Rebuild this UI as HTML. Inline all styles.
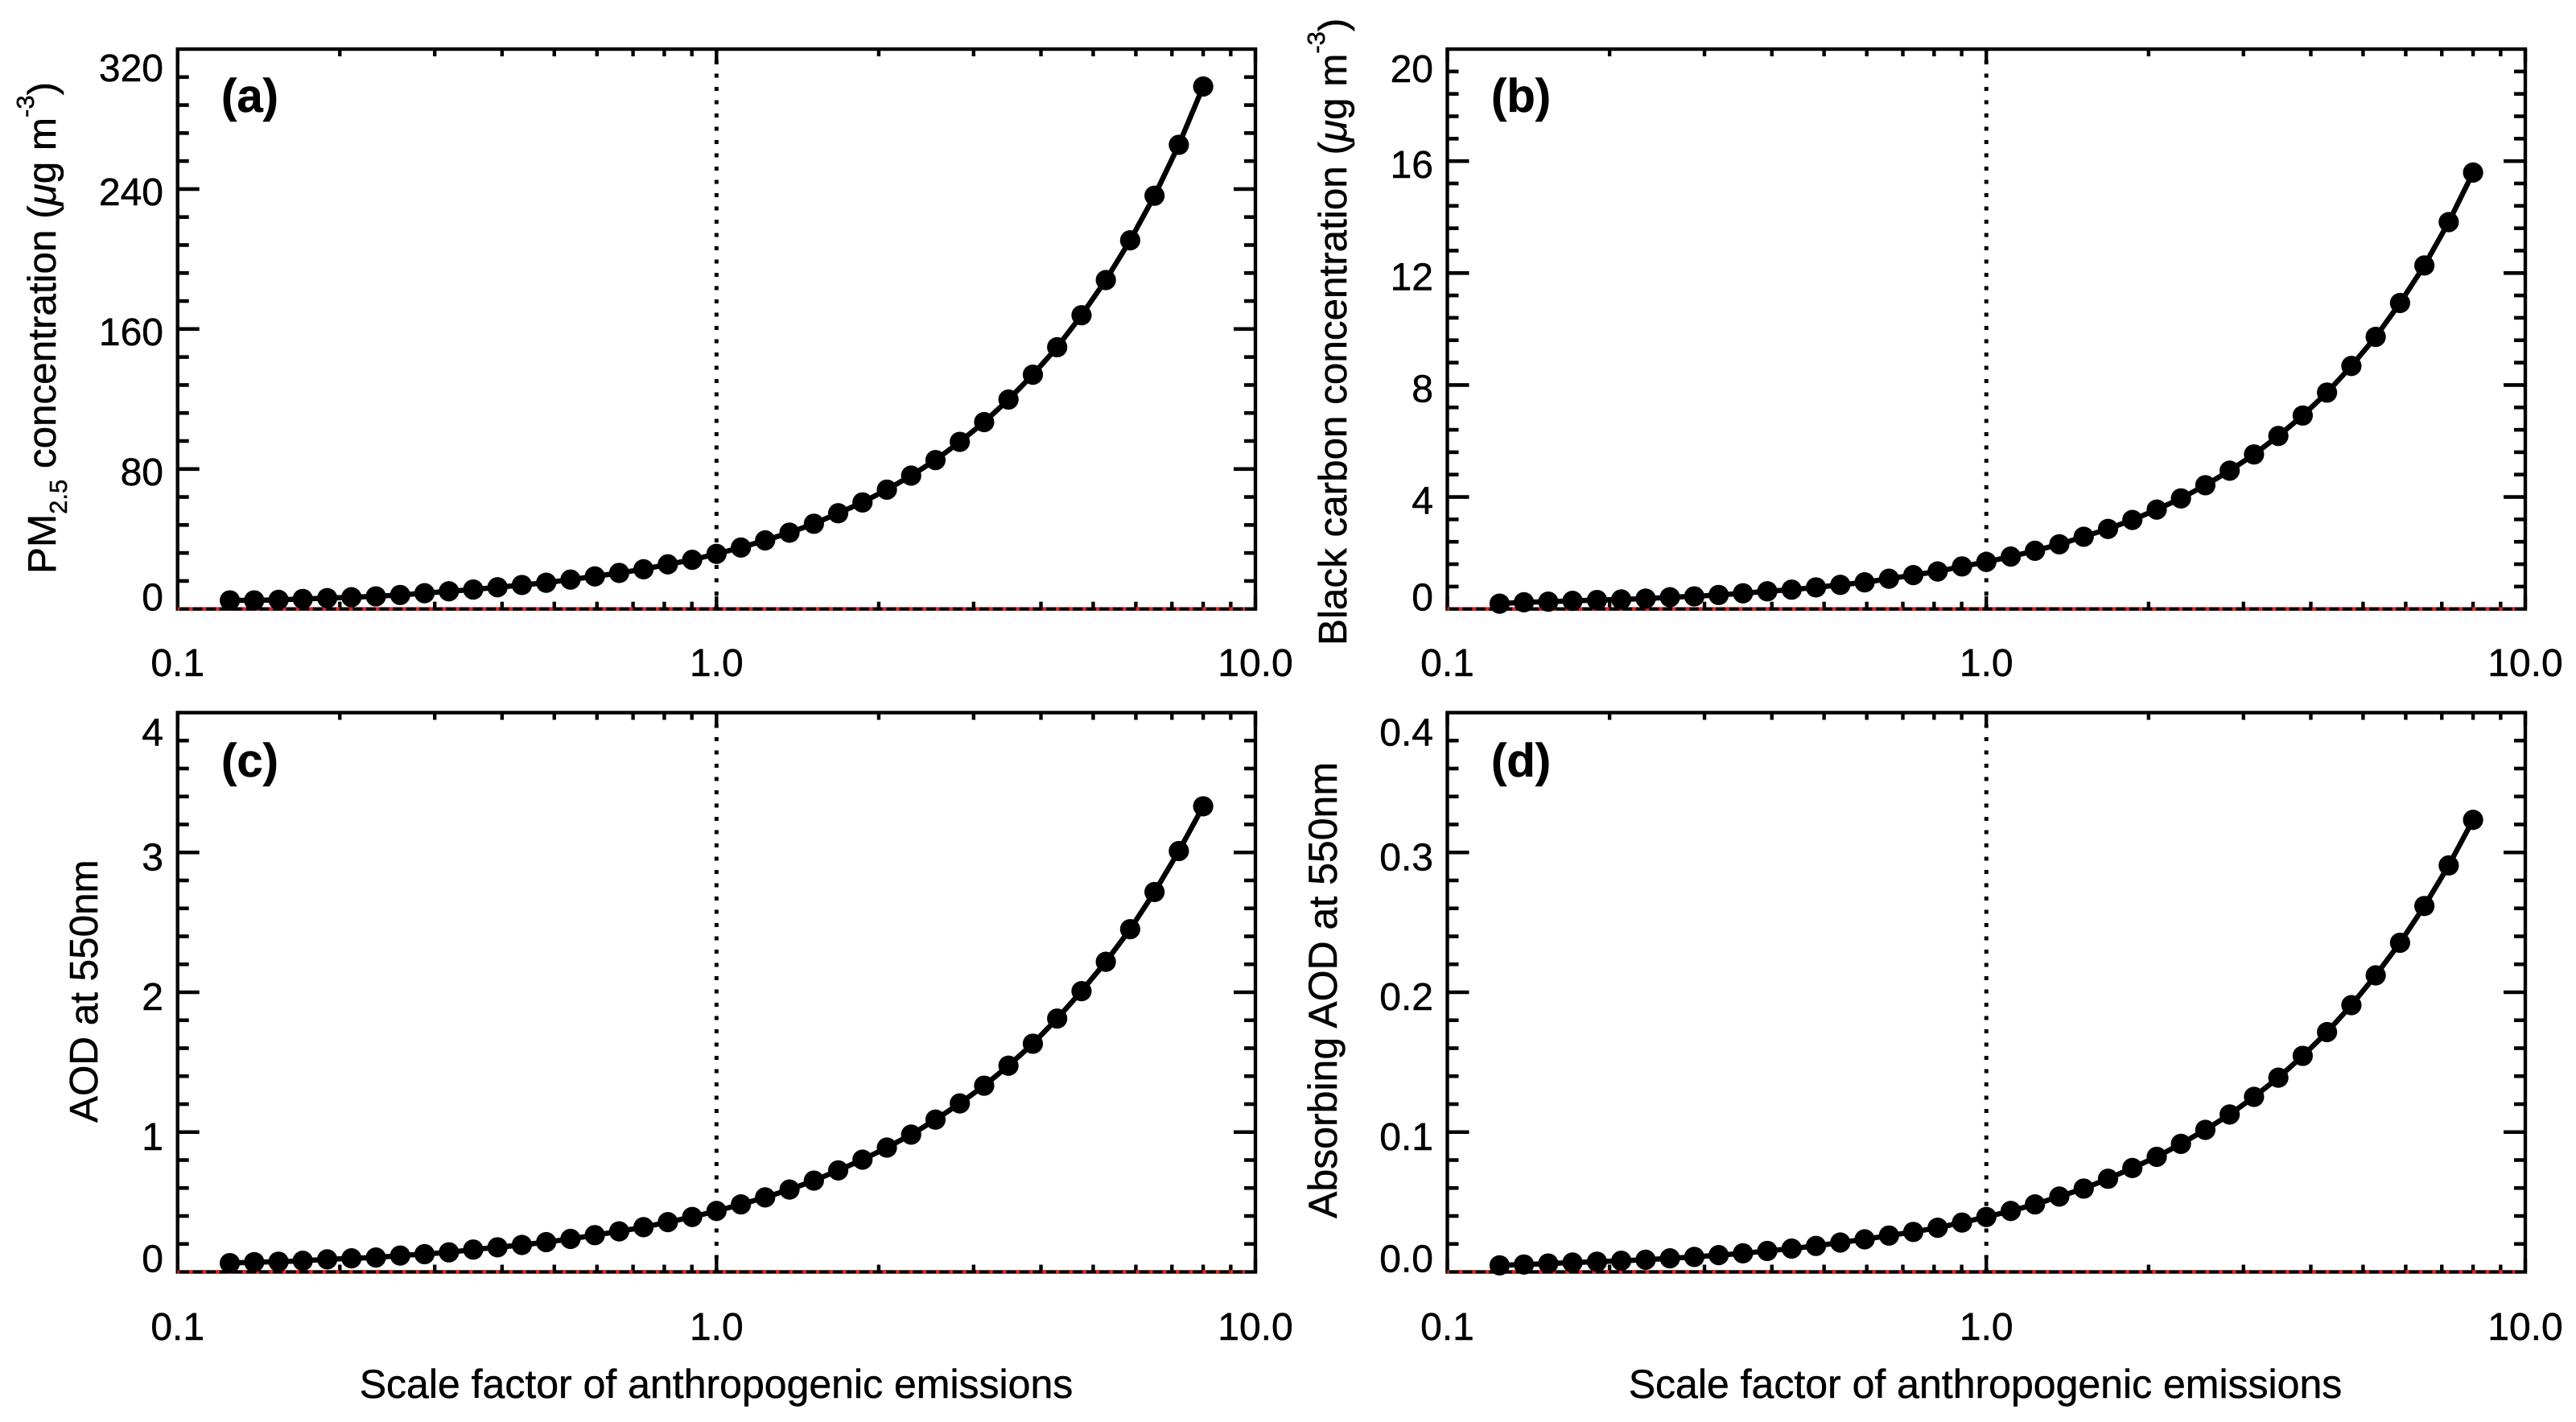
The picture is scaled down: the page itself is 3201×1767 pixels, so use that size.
<!DOCTYPE html>
<html lang="en">
<head>
<meta charset="utf-8">
<title>Aerosol response to anthropogenic emissions scale factor</title>
<style>
html,body{margin:0;padding:0;background:#fff;}
svg{display:block;}
text{font-family:"Liberation Sans",sans-serif;fill:#000;stroke:#000;stroke-width:0.5px;}
.title{font-size:50px;}
.title-tight{font-size:49.4px;}
.sub{font-size:31px;}
.tag{font-size:58px;font-weight:bold;}
</style>
</head>
<body>
<svg id="chart" xmlns="http://www.w3.org/2000/svg" width="3201" height="1767" viewBox="0 0 3201 1767">
  <rect x="0" y="0" width="3201" height="1767" fill="#fff"/>
  <g id="marks"></g>

  <text class="tag" x="275" y="139">(a)</text>
  <text class="tag" x="1853" y="139">(b)</text>
  <text class="tag" x="275" y="965">(c)</text>
  <text class="tag" x="1853" y="965">(d)</text>

  <text class="title-tight" transform="translate(69,713) rotate(-90)">PM<tspan class="sub" dy="14">2.5</tspan><tspan dy="-14"> concentration (</tspan><tspan font-style="italic">μ</tspan>g m<tspan class="sub" dy="-27">-3</tspan><tspan dy="27">)</tspan></text>
  <text class="title-tight" transform="translate(1673,802) rotate(-90)">Black carbon concentration (<tspan font-style="italic">μ</tspan>g m<tspan class="sub" dy="-27">-3</tspan><tspan dy="27">)</tspan></text>
  <text class="title-tight" transform="translate(121,1395) rotate(-90)">AOD at 550nm</text>
  <text class="title" transform="translate(1661,1514) rotate(-90)">Absorbing AOD at 550nm</text>

  <text class="title" x="890" y="1737" text-anchor="middle">Scale factor of anthropogenic emissions</text>
  <text class="title" x="2467" y="1737" text-anchor="middle">Scale factor of anthropogenic emissions</text>
</svg>
<script>
const scaleFactors = [0.1250,0.1387,0.1539,0.1707,0.1895,0.2102,0.2333,0.2588,0.2872,0.3187,0.3536,0.3923,0.4353,0.4830,0.5359,0.5946,0.6598,0.7320,0.8123,0.9013,1.000,1.110,1.231,1.366,1.516,1.682,1.866,2.071,2.297,2.549,2.828,3.138,3.482,3.864,4.287,4.757,5.278,5.856,6.498,7.210,8.000];
const pm25Values = [4.9,4.9,5.2,5.7,6.2,6.7,7.2,8.0,9.0,10.1,11.1,12.4,13.7,15.0,16.8,18.6,20.6,22.7,25.5,28.1,31.5,35.1,39.2,43.6,48.7,54.7,60.9,68.2,76.2,85.1,95.5,106.8,119.7,133.9,149.6,167.9,188.0,210.7,236.2,265.3,298.6];
const blackCarbonValues = [0.19,0.24,0.26,0.29,0.32,0.34,0.37,0.42,0.45,0.50,0.56,0.63,0.69,0.77,0.86,0.95,1.08,1.21,1.34,1.52,1.68,1.87,2.08,2.31,2.58,2.86,3.18,3.55,3.95,4.42,4.94,5.52,6.18,6.91,7.73,8.68,9.72,10.93,12.27,13.82,15.59];
const aodValues = [0.063,0.070,0.073,0.080,0.090,0.097,0.103,0.117,0.127,0.140,0.160,0.176,0.193,0.213,0.236,0.263,0.290,0.320,0.356,0.393,0.436,0.483,0.533,0.589,0.653,0.726,0.803,0.889,0.982,1.089,1.205,1.332,1.475,1.632,1.812,2.008,2.218,2.451,2.717,3.010,3.330];
const absorbingAodValues = [0.0047,0.0053,0.0060,0.0067,0.0073,0.0080,0.0087,0.0097,0.0107,0.0120,0.0133,0.0150,0.0167,0.0186,0.0210,0.0233,0.0260,0.0286,0.0316,0.0353,0.0393,0.0436,0.0483,0.0539,0.0596,0.0666,0.0743,0.0823,0.0916,0.1016,0.1126,0.1252,0.1389,0.1545,0.1715,0.1908,0.2121,0.2354,0.2617,0.2907,0.3233];

const xTickValues = [0.1,1,10];
const xTickLabels = ["0.1","1.0","10.0"];
const xMinorValues = [0.2,0.3,0.4,0.5,0.6,0.7,0.8,0.9,2,3,4,5,6,7,8,9];
const referenceScale = [1];
const baselineValue = [0];

const pm25Ticks = [0,80,160,240,320];
const pm25TickLabels = ["0","80","160","240","320"];
const blackCarbonTicks = [0,4,8,12,16,20];
const blackCarbonTickLabels = ["0","4","8","12","16","20"];
const aodTicks = [0,1,2,3,4];
const aodTickLabels = ["0","1","2","3","4"];
const absorbingAodTicks = [0,0.1,0.2,0.3,0.4];
const absorbingAodTickLabels = ["0.0","0.1","0.2","0.3","0.4"];

const NS = "http://www.w3.org/2000/svg";
const root = document.getElementById("marks");

function add(tag, attrs, parent) {
  const el = document.createElementNS(NS, tag);
  for (const k in attrs) el.setAttribute(k, attrs[k]);
  parent.appendChild(el);
  return el;
}

function tickLabelY(panelKey, index, fallback) {
  /* the figure nudged its tick labels so they stay inside the frame height */
  const offsets = {
    a: [-15, 3, 3, 3, 23],
    b: [-15, 4, 4, 4, 4, 24],
    c: [-17, 5, 5, 5, 24],
    d: [-17, 5, 5, 5, 24]
  };
  const o = offsets[panelKey];
  return fallback + o[Math.min(index, o.length - 1)] + 17;
}

function drawPanel(key, box, values, yTicks, yTickLabels, yMax, labelX, xLabelBaseline) {
  const g = add("g", {}, root);
  
  

  const xScale = v => box.left + (Math.log10(v) + 1) / 2 * (box.right - box.left);
  const yScale = v => box.bottom - v / yMax * (box.bottom - box.top);
  const sw = 4.4;

  /* frame */
  const frame = add("rect", {x: box.left, y: box.top, width: box.right - box.left, height: box.bottom - box.top, fill: "none", stroke: "#000", "stroke-width": sw}, g);
  
  

  /* y ticks, left and right */
  const minorCount = 5;
  const step = yTicks[1] - yTicks[0];
  yTicks.forEach((t, i) => {
    const py = yScale(t);
    [[box.left, 1], [box.right, -1]].forEach(([x0, dir]) => {
      if (t !== 0 && t !== yMax) {
        const tick = add("line", {x1: x0, x2: x0 + dir * 27, y1: py, y2: py, stroke: "#000", "stroke-width": 4.6}, g);
        
        
      }
      if (i < yTicks.length - 1) {
        for (let m = 1; m < minorCount; m++) {
          const my = yScale(t + step * m / minorCount);
          const minor = add("line", {x1: x0, x2: x0 + dir * 14, y1: my, y2: my, stroke: "#000", "stroke-width": 4.6}, g);
          
          
        }
      }
    });
    const lab = add("text", {x: labelX, y: tickLabelY(key, i, py), "text-anchor": "end", "font-size": 48}, g);
    lab.textContent = yTickLabels[i];
    
    
  });

  /* x ticks, top and bottom */
  xMinorValues.forEach(v => {
    const px = xScale(v);
    [[box.top, 1], [box.bottom, -1]].forEach(([y0, dir]) => {
      const tick = add("line", {x1: px, x2: px, y1: y0, y2: y0 + dir * 9, stroke: "#000", "stroke-width": 4.4}, g);
      
      
    });
  });
  xTickValues.forEach((v, i) => {
    const px = xScale(v);
    [[box.top, 1], [box.bottom, -1]].forEach(([y0, dir]) => {
      const tick = add("line", {x1: px, x2: px, y1: y0, y2: y0 + dir * 16, stroke: "#000", "stroke-width": 4.4}, g);
      
      
    });
    const lab = add("text", {x: px, y: xLabelBaseline, "text-anchor": "middle", "font-size": 48}, g);
    lab.textContent = xTickLabels[i];
    
    
  });

  /* dotted reference line at scale factor 1 */
  referenceScale.forEach(v => {
    const px = xScale(v);
    const ref = add("line", {x1: px, x2: px, y1: box.top, y2: box.bottom, stroke: "#000", "stroke-width": 5, "stroke-dasharray": "5 11.5", "stroke-dashoffset": 2.5}, g);
    
    
  });

  /* red dashed zero line */
  baselineValue.forEach(v => {
    const py = yScale(v);
    const zero = add("line", {x1: box.left, x2: box.right - 13, y1: py, y2: py, stroke: "#e8201e", "stroke-width": 4.6, "stroke-dasharray": "4.6 11.97", "stroke-dashoffset": 2.3}, g);
    
    
  });

  /* series */
  const pts = scaleFactors.map((s, i) => xScale(s).toFixed(2) + "," + yScale(values[i]).toFixed(2)).join(" ");
  const series = add("polyline", {points: pts, fill: "none", stroke: "#000", "stroke-width": 6.5, "stroke-linejoin": "round"}, g);
  
  
  scaleFactors.forEach((s, i) => {
    const c = add("circle", {cx: xScale(s), cy: yScale(values[i]), r: 12.6, fill: "#000"}, g);
    
    
  });
}

drawPanel("a", {left: 220.7, right: 1560, top: 61, bottom: 756.7}, pm25Values, pm25Ticks, pm25TickLabels, 320, 203, 840);
drawPanel("b", {left: 1798.5, right: 3138, top: 61, bottom: 756.7}, blackCarbonValues, blackCarbonTicks, blackCarbonTickLabels, 20, 1781, 840);
drawPanel("c", {left: 220.7, right: 1560, top: 885.5, bottom: 1580.5}, aodValues, aodTicks, aodTickLabels, 4, 203, 1665);
drawPanel("d", {left: 1798.5, right: 3138, top: 885.5, bottom: 1580.5}, absorbingAodValues, absorbingAodTicks, absorbingAodTickLabels, 0.4, 1781, 1665);
</script>
</body>
</html>
